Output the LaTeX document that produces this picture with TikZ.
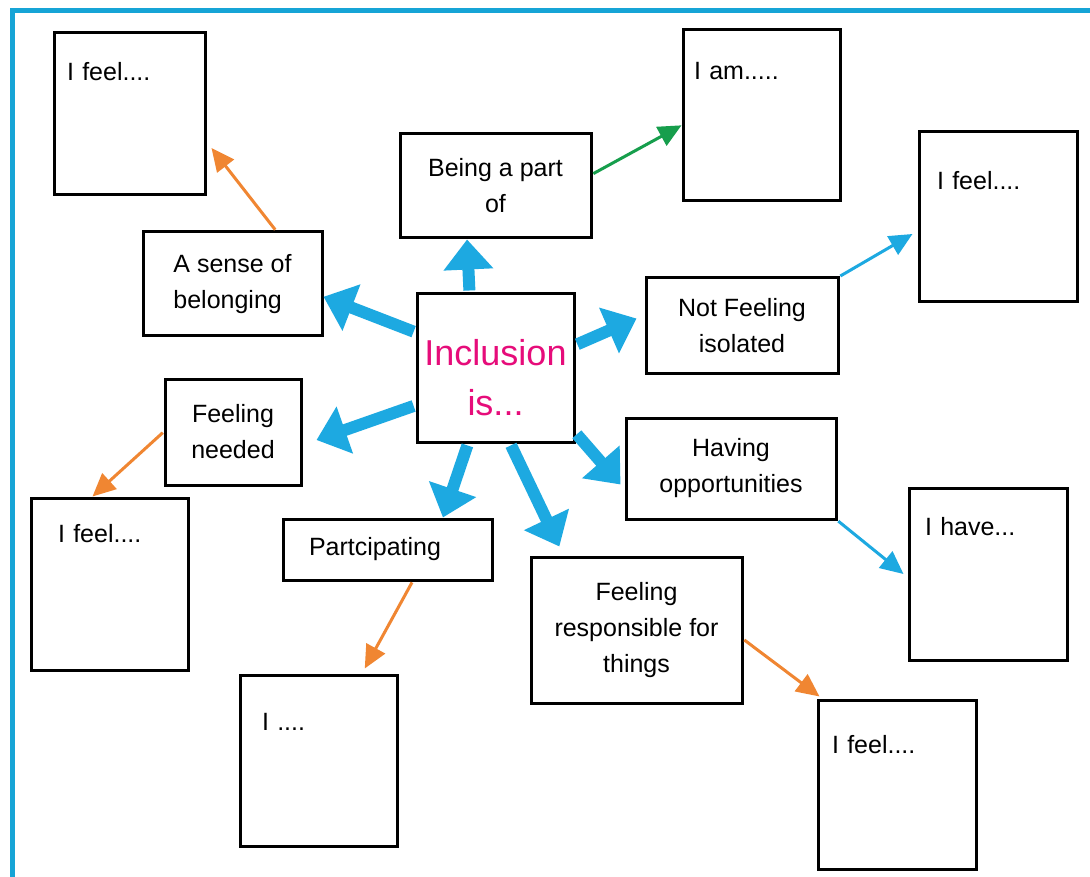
\documentclass[tikz,border=0pt]{standalone}
\usepackage{fontspec}
\setmainfont{Liberation Sans}
\usetikzlibrary{arrows.meta}
\definecolor{frameblue}{RGB}{22,164,214}
\definecolor{arrowblue}{RGB}{29,169,225}
\definecolor{arroworange}{RGB}{240,134,50}
\definecolor{arrowgreen}{RGB}{22,158,76}
\definecolor{titlemagenta}{RGB}{230,12,122}
\begin{document}
\begin{tikzpicture}[x=1pt,y=-1pt,
  box/.style={draw=black, line width=3pt, inner sep=0pt, font=\fontsize{25}{36}\selectfont},
  cbox/.style={box, align=center},
  wbox/.style={box, align=left, inner ysep=0pt},
  bigarrow/.style={draw=arrowblue, line width=12pt, shorten <=2pt, -{Triangle[width=48pt,length=30pt]}},
  thinarrow/.style={line width=3pt, shorten <=1pt, -{Triangle[width=21pt,length=23pt]}}]
\useasboundingbox (0,0) rectangle (1090,877);
\fill[white] (0,0) rectangle (1090,877);
% frame
\draw[frameblue, line width=5pt] (12,877) -- (12,11) -- (1090,11);

% centre
\node[box, text=titlemagenta, font=\fontsize{36}{50}\selectfont] (c) at (495.5,368)
  {\parbox[c][148pt][t]{157pt}{\centering\vspace*{45pt}Inclusion\\is...}};

% idea boxes
\node[cbox, minimum width=191pt, minimum height=104pt] (being) at (495.5,186) {Being a part\\of};
\node[cbox, minimum width=179pt, minimum height=104pt, align=left] (sense) at (232.5,284) {A sense of\\belonging};
\node[cbox, minimum width=192pt, minimum height=95pt] (notf) at (742,325.5) {Not Feeling\\isolated};
\node[cbox, minimum width=136pt, minimum height=106pt] (needed) at (233,432) {Feeling\\needed};
\node[cbox, minimum width=210pt, minimum height=101pt] (opp) at (731,468.5) {Having\\opportunities};
\node[cbox, minimum height=61pt, align=left, inner xsep=26pt, text width=157pt] (part) at (387.5,549.5) {Partcipating};
\node[cbox, minimum width=211pt, minimum height=146pt] (resp) at (636.5,630) {Feeling\\responsible for\\things};

% writing boxes
\node[wbox, inner xsep=13pt, text width=125pt, text height=48pt, text depth=114pt] (tl) at (129.5,114) {I feel....};
\node[wbox, inner xsep=11pt, text width=135pt, text height=50pt, text depth=121pt] (am) at (761.5,115.5) {I am.....};
\node[wbox, inner xsep=18pt, text width=122pt, text height=58pt, text depth=112pt] (trf) at (998,217) {I feel....};
\node[wbox, inner xsep=27pt, text width=103pt, text height=44pt, text depth=128pt] (lf) at (109.5,584) {I feel....};
\node[wbox, inner xsep=16pt, text width=126pt, text height=47pt, text depth=125pt] (have) at (988,574) {I have...};
\node[wbox, inner xsep=22pt, text width=113pt, text height=55pt, text depth=116pt] (idots) at (318.5,760.5) {I ....};
\node[wbox, inner xsep=14pt, text width=130pt, text height=53pt, text depth=116pt] (brf) at (897,784.5) {I feel....};

% thick blue arrows from the centre
\draw[bigarrow] (c.109) -- (being.242);
\draw[bigarrow] (c.156) -- (sense.-8);
\draw[bigarrow] (c.205) -- ([xshift=14pt,yshift=-8pt]needed.east);
\draw[bigarrow] (c.250) -- (part.30);
\draw[bigarrow] (c.-79) -- ([yshift=9pt]resp.136);
\draw[bigarrow] (c.-39) -- ([xshift=-4pt,yshift=-16pt]opp.west);
\draw[bigarrow] (c.16) -- ([xshift=-8pt,yshift=7pt]notf.west);

% thin arrows to the writing boxes
\draw[thinarrow, arroworange] (sense.51) -- ([xshift=5pt,yshift=-34pt]tl.east);
\draw[thinarrow, arrowgreen] (being.7) -- (am.187);
\draw[thinarrow, arrowblue] (notf.north east) -- ([xshift=-5pt,yshift=-17pt]trf.west);
\draw[thinarrow, arroworange] (needed.west) -- (lf.101);
\draw[thinarrow, arrowblue] (opp.south east) -- ([xshift=-4pt]have.west);
\draw[thinarrow, arroworange] (part.-52) -- ([yshift=5pt]idots.62);
\draw[thinarrow, arroworange] (resp.-5) -- ([xshift=3pt,yshift=2pt]brf.north west);
\end{tikzpicture}
\end{document}
